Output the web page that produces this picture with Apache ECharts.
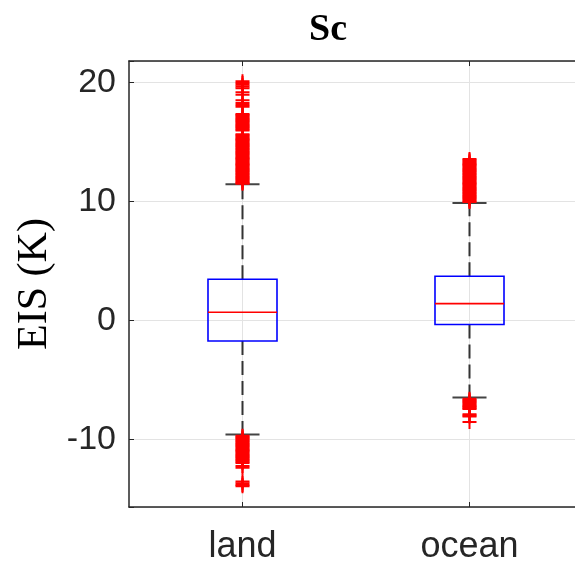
<!DOCTYPE html>
<html><head><meta charset="utf-8">
<script src="https://cdn.jsdelivr.net/npm/echarts@6/dist/echarts.min.js"></script>
<style>html,body{margin:0;padding:0;background:#fff}#c{width:575px;height:564px}</style>
</head><body><div id="c"></div>
<script>
const categories = ['land', 'ocean'];
// [lowerWhisker, q1, median, q3, upperWhisker]
const landStats = [-9.61, -1.74, 0.67, 3.45, 11.43];
const oceanStats = [-6.5, -0.36, 1.40, 3.70, 9.86];
const landOutliers = [
  20.1, 19.95, 19.8, 19.65, 19.5, 19.18, 18.96, 18.49, 18.26, 18.1, 17.95,
  17.35, 17.25, 17.15, 17.05, 16.95, 16.85, 16.75, 16.65, 16.55, 16.45, 16.35, 16.25, 16.15, 16.05, 15.95,
  15.65, 15.55, 15.45, 15.35, 15.25, 15.15, 15.05, 14.95, 14.85, 14.75, 14.65, 14.55, 14.45, 14.35, 14.25,
  14.15, 14.05, 13.95, 13.85, 13.75, 13.65, 13.55, 13.45, 13.35, 13.25, 13.15, 13.05, 12.95, 12.85, 12.75,
  12.65, 12.55, 12.45, 12.35, 12.25, 12.15, 12.05, 11.95, 11.85, 11.75, 11.65, 11.55, 11.48,
  -9.7, -9.8, -9.9, -10.0, -10.1, -10.2, -10.3, -10.4, -10.5, -10.6, -10.7, -10.8, -10.9, -11.0,
  -11.1, -11.2, -11.3, -11.4, -11.5, -11.6, -11.7, -11.8, -11.9, -12.0,
  -12.25, -12.4, -13.55, -13.7, -13.85, -13.95
];
const oceanOutliers = [
  13.55, 13.45, 13.35, 13.25, 13.15, 13.05, 12.95, 12.85, 12.75, 12.65, 12.55, 12.45, 12.35, 12.25,
  12.15, 12.05, 11.95, 11.85, 11.75, 11.65, 11.55, 11.45, 11.35, 11.25, 11.15, 11.05, 10.95, 10.85,
  10.75, 10.65, 10.55, 10.45, 10.35, 10.25, 10.15, 10.05, 9.95,
  -6.6, -6.7, -6.8, -6.9, -7.0, -7.1, -7.2, -7.3, -7.4, -7.45,
  -7.9, -8.0, -8.1, -8.55
];
const yTickLabels = [-10, 0, 10, 20];
const yMin = -15.7, yMax = 21.8;

const chart = echarts.init(document.getElementById('c'), null, {renderer: 'canvas'});
const axisColor = '#262626';
const gridColor = '#e3e3e3';
const plusSymbol = 'path://M6,0h2v14h-2z M0,6h14v2h-14z';

function boxRender(params, api) {
  const x = api.value(0);
  const band = api.size([1, 0])[0];
  const boxW = band * 0.304, capW = band * 0.15;
  const pLW = api.coord([x, api.value(1)]);
  const pQ1 = api.coord([x, api.value(2)]);
  const pMed = api.coord([x, api.value(3)]);
  const pQ3 = api.coord([x, api.value(4)]);
  const pUW = api.coord([x, api.value(5)]);
  const cx = pQ1[0];
  const dashStyle = {stroke: '#333333', lineWidth: 2, lineDash: [14, 6], fill: null};
  const capStyle = {stroke: '#444444', lineWidth: 2, fill: null};
  return {
    type: 'group',
    children: [
      {type: 'line', shape: {x1: cx, y1: pQ3[1], x2: cx, y2: pUW[1]}, style: dashStyle},
      {type: 'line', shape: {x1: cx, y1: pQ1[1], x2: cx, y2: pLW[1]}, style: dashStyle},
      {type: 'line', shape: {x1: cx - capW / 2, y1: pUW[1], x2: cx + capW / 2, y2: pUW[1]}, style: capStyle},
      {type: 'line', shape: {x1: cx - capW / 2, y1: pLW[1], x2: cx + capW / 2, y2: pLW[1]}, style: capStyle},
      {type: 'rect', shape: {x: cx - boxW / 2, y: pQ3[1], width: boxW, height: pQ1[1] - pQ3[1]},
        style: {stroke: '#0000ff', lineWidth: 1.6, fill: null}},
      {type: 'line', shape: {x1: cx - boxW / 2, y1: pMed[1], x2: cx + boxW / 2, y2: pMed[1]},
        style: {stroke: '#ff0000', lineWidth: 1.6}}
    ]
  };
}

const option = {
  animation: false,
  backgroundColor: '#ffffff',
  title: {
    text: 'Sc', left: 323, top: 6, textAlign: 'center',
    textStyle: {fontFamily: 'Liberation Serif', fontWeight: 'bold', fontSize: 38, color: '#000'}
  },
  grid: {left: 129, top: 61, width: 454, bottom: 57, containLabel: false, outerBoundsMode: 'none'},
  xAxis: [{
    type: 'category', data: categories, boundaryGap: true, position: 'bottom',
    axisLine: {show: true, onZero: false, lineStyle: {color: axisColor, width: 1.5}},
    axisTick: {show: true, inside: true, alignWithLabel: true, length: 5, lineStyle: {color: axisColor}},
    axisLabel: {fontFamily: 'Liberation Sans', fontSize: 36, color: axisColor, margin: 22},
    splitLine: {show: true, alignWithLabel: true, lineStyle: {color: gridColor, width: 1}}
  }, {
    type: 'category', data: categories, position: 'top', boundaryGap: true,
    axisLine: {show: true, onZero: false, lineStyle: {color: axisColor, width: 1.5}},
    axisTick: {show: true, inside: true, alignWithLabel: true, length: 5, lineStyle: {color: axisColor}},
    axisLabel: {show: false}, splitLine: {show: false}
  }],
  yAxis: {
    type: 'value', min: yMin, max: yMax,
    axisLine: {show: true, onZero: false, lineStyle: {color: axisColor, width: 1.5}},
    axisTick: {show: true, inside: true, length: 5, lineStyle: {color: axisColor}},
    axisLabel: {
      fontFamily: 'Liberation Sans', fontSize: 34, color: axisColor, margin: 13,
      formatter: v => yTickLabels.indexOf(Math.round(v * 1000) / 1000) >= 0 ? String(v) : ''
    },
    splitLine: {show: true, lineStyle: {color: gridColor, width: 1}},
    name: 'EIS (K)', nameLocation: 'middle', nameRotate: 90, nameGap: 69,
    nameTextStyle: {fontFamily: 'Liberation Serif', fontSize: 42, color: '#000'}
  },
  series: [{
    type: 'custom', renderItem: boxRender, z: 3,
    encode: {x: 0, y: [1, 2, 3, 4, 5]},
    data: [[0].concat(landStats), [1].concat(oceanStats)]
  }, {
    type: 'scatter', z: 4, symbol: plusSymbol, symbolSize: 14,
    itemStyle: {color: '#ff0000', opacity: 1},
    data: landOutliers.map(v => [0, v]).concat(oceanOutliers.map(v => [1, v]))
  }]
};
chart.setOption(option);
</script></body></html>
